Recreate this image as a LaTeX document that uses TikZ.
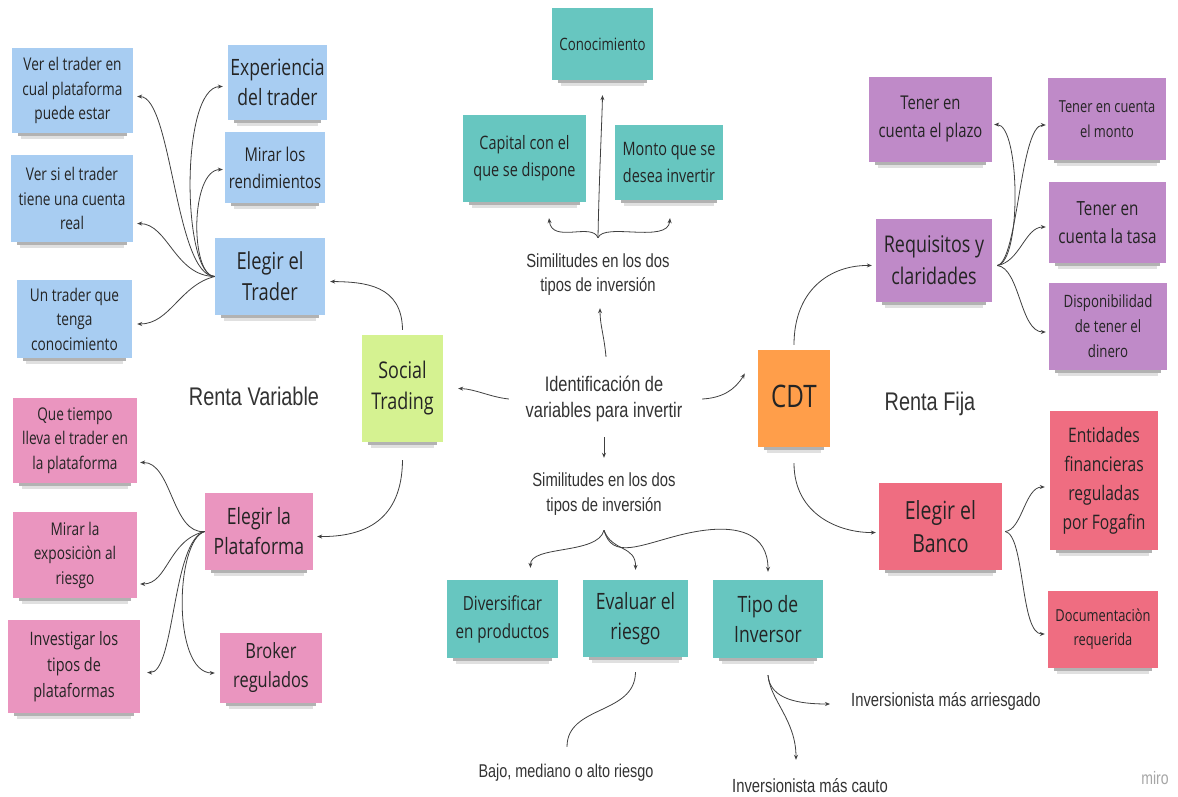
\documentclass[tikz,border=0pt]{standalone}
\usepackage{fontspec}
\setmainfont{Liberation Sans}[FakeStretch=0.78]
\newfontfamily\stick{Open Sans}[FakeStretch=0.78]
\usetikzlibrary{arrows.meta}
\newcommand\fsz[2]{\fontsize{#1pt}{#2pt}\selectfont}
\definecolor{cblue}{HTML}{A8CDF2}
\definecolor{cpink}{HTML}{EA95BF}
\definecolor{cgreen}{HTML}{D5F291}
\definecolor{cteal}{HTML}{67C6C0}
\definecolor{corange}{HTML}{FF9E4A}
\definecolor{cpurple}{HTML}{BF8AC8}
\definecolor{cred}{HTML}{EF6D81}
\definecolor{ctext}{HTML}{242424}
\tikzset{
  note/.style={rectangle, inner sep=2pt, align=center, text=ctext},
  bl/.style={note, fill=cblue},
  pk/.style={note, fill=cpink},
  gr/.style={note, fill=cgreen},
  tl/.style={note, fill=cteal},
  orng/.style={note, fill=corange},
  pu/.style={note, fill=cpurple},
  rd/.style={note, fill=cred},
  fs/.style={font={\stick\fsz{17.5}{24.5}}},
  fm/.style={font={\stick\fsz{19}{27}}},
  fl/.style={font={\stick\fsz{22.5}{30}}},
  free/.style={inner sep=0pt, align=center, text=black!80},
  shdA/.style={fill=black, opacity=0.30},
  shdB/.style={fill=black, opacity=0.12},
  arr/.style={draw=black!75, line width=0.8pt, -{Stealth[length=5pt,width=4pt]}},
  ln/.style={draw=black!75, line width=0.8pt},
}
\begin{document}
\begin{tikzpicture}[x=1pt,y=-1pt]
\fill[white] (0,0) rectangle (1178,797);
\path[use as bounding box] (0,0) rectangle (1178,797);

% ---------- left blue ----------
\node[bl, fs, minimum width=121pt, minimum height=85pt] (vert) at (72.5,90.5) {Ver el trader en\\cual plataforma\\puede estar};
\node[bl, fl, minimum width=99pt, minimum height=75pt] (exp) at (277.5,82.5) {Experiencia\\del trader};
\node[bl, fm, minimum width=100pt, minimum height=71pt] (mir) at (275,167.5) {Mirar los\\rendimientos};
\node[bl, fs, minimum width=122pt, minimum height=87pt] (versi) at (72,198.5) {Ver si el trader\\tiene una cuenta\\real};
\node[bl, font={\stick\fsz{23.5}{31}}, minimum width=110pt, minimum height=77pt] (trader) at (270,276.5) {Elegir el\\Trader};
\node[bl, fs, minimum width=115pt, minimum height=78pt] (un) at (74.5,319) {Un trader que\\tenga\\conocimiento};

% ---------- left pink ----------
\node[pk, fs, minimum width=124pt, minimum height=85pt] (que) at (75,440.5) {Que tiempo\\lleva el trader en\\la plataforma};
\node[pk, fs, minimum width=124pt, minimum height=86pt] (mirla) at (75,555) {Mirar la\\exposiciòn al\\riesgo};
\node[pk, font={\stick\fsz{18.5}{26}}, minimum width=132pt, minimum height=93pt] (inv) at (74,666.5) {Investigar los\\tipos de\\plataformas};
\node[pk, fl, minimum width=108pt, minimum height=77pt] (plat) at (259,531.5) {Elegir la\\Plataforma};
\node[pk, font={\stick\fsz{21}{29}}, minimum width=102pt, minimum height=70pt] (broker) at (271,668) {Broker\\regulados};

% ---------- social trading ----------
\node[gr, font={\stick\fsz{23}{31}}, minimum width=81pt, minimum height=107pt] (social) at (402.5,388.5) {Social\\Trading};
\node[free, font=\fsz{25.5}{30}] (rv) at (254,396) {Renta Variable};

% ---------- top teal ----------
\node[tl, font={\stick\fsz{17}{24}}, minimum width=101pt, minimum height=72pt] (cono) at (602.5,44) {Conocimiento};
\node[tl, font={\stick\fsz{18.5}{27}}, minimum width=123pt, minimum height=87pt] (capital) at (524.5,158.5) {Capital con el\\que se dispone};
\node[tl, font={\stick\fsz{18.5}{27}}, minimum width=108pt, minimum height=75pt] (monto) at (669,162.5) {Monto que se\\desea invertir};
\node[free, font=\fsz{19}{24}, minimum height=60pt] (simtop) at (598,275) {Similitudes en los dos\\tipos de inversión};

% ---------- centre ----------
\node[free, font=\fsz{21}{26}, minimum height=60pt, minimum width=180pt] (ident) at (604,399) {Identificación de\\variables para invertir};
\node[free, font=\fsz{19}{25}, minimum height=60pt] (simbot) at (604,494) {Similitudes en los dos\\tipos de inversión};

% ---------- bottom teal ----------
\node[tl, font={\stick\fsz{19.5}{28}}, minimum width=111pt, minimum height=78pt] (div) at (502.5,619) {Diversificar\\en productos};
\node[tl, fl, minimum width=105pt, minimum height=77pt] (eval) at (635.5,618.5) {Evaluar el\\riesgo};
\node[tl, fl, minimum width=110pt, minimum height=78pt] (tipo) at (768,619) {Tipo de\\Inversor};
\node[free, font=\fsz{18.5}{22}, minimum height=30pt] (bajo) at (566,773) {Bajo, mediano o alto riesgo};
\node[free, font=\fsz{19}{22}, minimum height=30pt, anchor=west] (arries) at (851,701) {Inversionista más arriesgado};
\node[free, font=\fsz{19}{22}, minimum height=30pt] (cauto) at (810,786) {Inversionista más cauto};

% ---------- right ----------
\node[orng, font={\stick\fsz{31}{36}}, minimum width=72pt, minimum height=97pt] (cdt) at (794,398.5) {\raisebox{5pt}{CDT}};
\node[free, font=\fsz{25.5}{30}] (rf) at (930,404) {Renta Fija};

\node[pu, font={\stick\fsz{19}{28}}, minimum width=123pt, minimum height=85pt] (plazo) at (930.5,119.5) {Tener en\\cuenta el plazo};
\node[pu, font={\stick\fsz{16.5}{25}}, minimum width=118pt, minimum height=82pt] (monto2) at (1107,119) {Tener en cuenta\\el monto};
\node[pu, font={\stick\fsz{19.5}{28}}, minimum width=117pt, minimum height=81pt] (tasa) at (1107.5,222.5) {Tener en\\cuenta la tasa};
\node[pu, font={\stick\fsz{17}{25}}, minimum width=118pt, minimum height=87pt] (disp) at (1108,326.5) {Disponibilidad\\de tener el\\dinero};
\node[pu, font={\stick\fsz{23}{32}}, minimum width=116pt, minimum height=83pt] (requis) at (934,260.5) {Requisitos y\\claridades};

\node[rd, font={\stick\fsz{25}{33}}, minimum width=123pt, minimum height=87pt] (banco) at (940.5,526.5) {Elegir el\\Banco};
\node[rd, font={\stick\fsz{20}{29}}, minimum width=108pt, minimum height=139pt] (ent) at (1104,480.5) {Entidades\\financieras\\reguladas\\por Fogafin};
\node[rd, font={\stick\fsz{16.5}{24}}, minimum width=110pt, minimum height=77pt] (doc) at (1103,629.5) {Documentaciòn\\requerida};

\node[free, font=\fsz{18}{22}, text=black!35] (miro) at (1155,778) {miro};

% ---------- sticky shadows (below bottom edge) ----------
\foreach \n in {vert,exp,mir,versi,trader,un,que,mirla,inv,plat,broker,social,cono,capital,monto,div,eval,tipo,cdt,plazo,monto2,tasa,disp,requis,banco,ent,doc}{
  \fill[shdA] ([shift={(6,0)}]\n.south west) rectangle ([shift={(-6,3)}]\n.south east);
  \fill[shdB] ([shift={(9,3)}]\n.south west) rectangle ([shift={(-9,5.5)}]\n.south east);
}

% ---------- connectors: left blue fan ----------
\draw[arr] (trader.west) .. controls (175,276) and (172,97) .. ([shift={(4,6)}]vert.east);
\draw[arr] (trader.west) .. controls (182,276) and (180,87) .. ([shift={(-5,4)}]exp.west);
\draw[arr] (trader.west) .. controls (190,276) and (190,170) .. ([shift={(-2,2)}]mir.west);
\draw[arr] (trader.west) .. controls (175,276) and (168,224) .. ([shift={(4,25)}]versi.east);
\draw[arr] (trader.west) .. controls (180,285) and (170,324) .. ([shift={(5,5)}]un.east);

% ---------- left pink fan ----------
\draw[arr] (plat.west) .. controls (172,535) and (172,462) .. ([shift={(3,22)}]que.east);
\draw[arr] (plat.west) .. controls (168,540) and (168,584) .. ([shift={(3,29)}]mirla.east);
\draw[arr] (plat.west) .. controls (172,540) and (175,673) .. ([shift={(7,6)}]inv.east);
\draw[arr] (plat.west) .. controls (175,540) and (172,673) .. ([shift={(-5,5)}]broker.west);

% ---------- social trading ----------
\draw[arr] ([yshift=5pt]social.north) .. controls (402,285) and (365,282) .. ([shift={(5,5)}]trader.east);
\draw[arr] ([yshift=-18pt]social.south) .. controls (402,520) and (365,537) .. ([shift={(4,5)}]plat.east);

% ---------- centre ----------
\draw[arr] ([xshift=-5pt]ident.west) .. controls (490,397) and (475,389) .. ([xshift=15pt]social.east);
\draw[arr] ([xshift=8pt]ident.east) .. controls (722,398) and (735,390) .. ([shift={(-13,-25)}]cdt.west);
\draw[arr] ([shift={(2,-12)}]ident.north) .. controls (604,335) and (600,325) .. ([shift={(2,3)}]simtop.south);
\draw[arr] ([yshift=-8pt]ident.south) -- ([yshift=6pt]simbot.north);

% ---------- top brace ----------
\coordinate (bt) at ([yshift=7pt]simtop.north);
\draw[arr] (bt) .. controls (592,222) and (552,244) .. ([shift={(24.5,16)}]capital.south);
\draw[arr] (bt) .. controls (604,222) and (668,244) .. ([shift={(1,18)}]monto.south);
\draw[arr] (bt) .. controls (599,180) and (602,120) .. ([yshift=-15pt]cono.south);

% ---------- bottom fan ----------
\coordinate (bb) at ([yshift=-6pt]simbot.south);
\draw[arr] (bb) .. controls (598,555) and (530,545) .. ([shift={(28,-12)}]div.north);
\draw[arr] (bb) .. controls (612,552) and (636,545) .. ([yshift=10pt]eval.north);
\draw[arr] (bb) .. controls (612,560) and (640,545) .. (680,535) .. controls (740,520) and (768,535) .. ([yshift=8pt]tipo.north);
\draw[ln] ([yshift=-15pt]eval.south) .. controls (635,715) and (567,705) .. ([shift={(1,-11)}]bajo.north);
\draw[arr] ([yshift=-17pt]tipo.south) .. controls (770,700) and (800,704) .. ([shift={(-21,3)}]arries.west);
\draw[arr] ([yshift=-17pt]tipo.south) .. controls (770,700) and (796,720) .. ([shift={(-14,-11)}]cauto.north);

% ---------- CDT ----------
\draw[arr] ([yshift=5pt]cdt.north) .. controls (794,290) and (830,265) .. ([shift={(-4,5)}]requis.west);
\draw[arr] ([yshift=-16pt]cdt.south) .. controls (794,515) and (840,533) .. ([shift={(-3,6)}]banco.west);

% ---------- requisitos fan ----------
\coordinate (rb) at ([shift={(5,5)}]requis.east);
\draw[arr] (rb) .. controls (1022,262) and (1020,125) .. ([shift={(2,5)}]plazo.east);
\draw[arr] (rb) .. controls (1018,262) and (1020,125) .. ([shift={(-2,6)}]monto2.west);
\draw[arr] (rb) .. controls (1020,262) and (1025,227) .. ([shift={(-3,4.5)}]tasa.west);
\draw[arr] (rb) .. controls (1020,268) and (1020,332) .. ([shift={(-3,5.5)}]disp.west);

% ---------- banco fan ----------
\coordinate (kb) at ([shift={(3,5)}]banco.east);
\draw[arr] (kb) .. controls (1022,530) and (1025,487) .. ([shift={(-5,6.5)}]ent.west);
\draw[arr] (kb) .. controls (1025,535) and (1020,634) .. ([shift={(-3,4.5)}]doc.west);
\end{tikzpicture}
\end{document}
